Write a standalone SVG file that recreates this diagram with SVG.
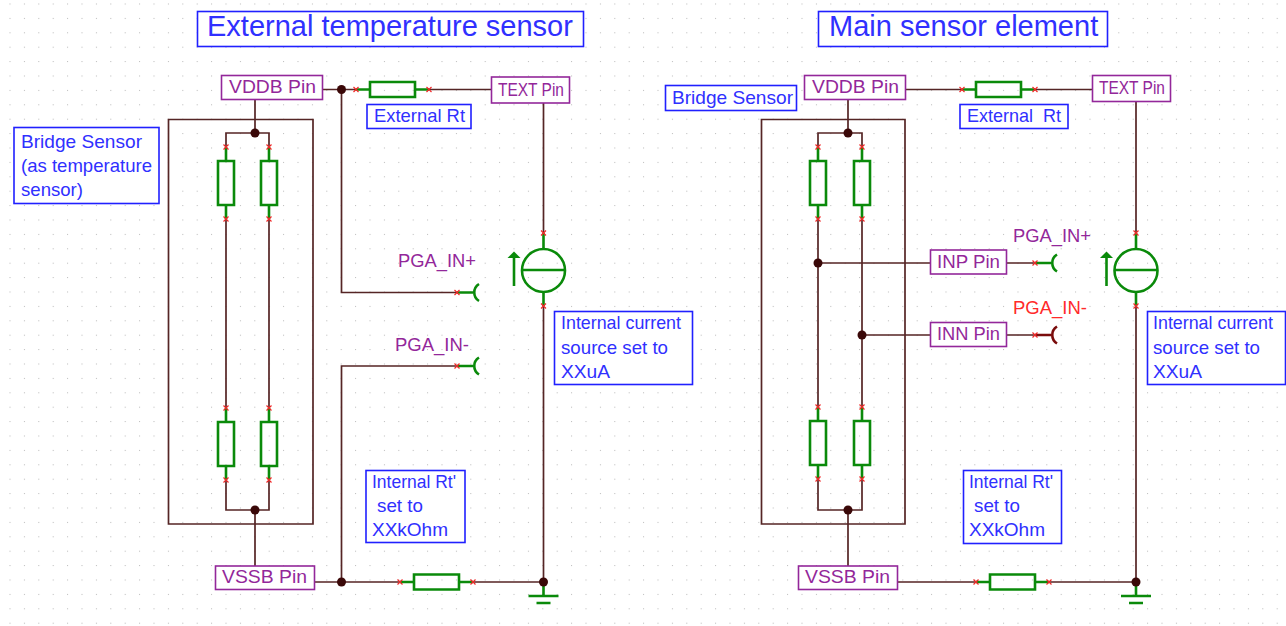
<svg xmlns="http://www.w3.org/2000/svg" width="1286" height="626" viewBox="0 0 1286 626">
<style>
text{font-family:"Liberation Sans",Arial,sans-serif;font-size:19px;lengthAdjust:spacingAndGlyphs}
.t{fill:#3030ff}.p{fill:#93279a}.r{fill:#ff2a2a}
.h{font-size:29px}.s{font-size:17px}
.tb{fill:#fff;stroke:#2020ff;stroke-width:1.6}
.pb{fill:#fff;stroke:#93279a;stroke-width:1.6}
.w{fill:none;stroke:#552525;stroke-width:1.7}
.g{fill:none;stroke:#0a8a0a;stroke-width:2.6}
.d{fill:none;stroke:#7a0c0c;stroke-width:2.6}
.x{fill:none;stroke:#f02828;stroke-width:1.2}
.j{fill:#3a0808}
</style>
<defs>
<pattern id="grid" width="14.4" height="14.4" patternUnits="userSpaceOnUse" x="9.500" y="3.500"><rect width="1" height="1" fill="#b8b8b8"/></pattern>
<path id="xm" class="x" d="M-2.500-2.500L2.500 2.500M-2.500 2.500L2.500-2.500"/>
<g id="rv"><path class="g" d="M0 0V14M0 58V72M-8 14H8V58H-8Z"/><use href="#xm"/><use href="#xm" y="72"/></g>
<g id="rh"><path class="g" d="M0 0H14M59 0H73M14-7.500H59V7.500H14Z"/><use href="#xm"/><use href="#xm" x="73"/></g>
<g id="cs"><path class="g" d="M0 0V16M0 73V59M-22 37H22"/><circle class="g" cx="0" cy="37.500" r="21.500"/><path class="g" d="M-29.500 22V53"/><path fill="#0a8a0a" d="M-29.500 18.500L-36 25H-23Z"/><use href="#xm"/><use href="#xm" y="73"/></g>
<g id="gnd"><path class="g" d="M0 0V14M-15 14H15M-7 21H7"/></g>
<g id="cap"><path class="g" d="M0 0H16M22-8.500A10 10 0 0 0 22 8.500"/><use href="#xm"/></g>
<g id="capr"><path class="d" d="M0 0H16M22-8.500A10 10 0 0 0 22 8.500"/><use href="#xm"/></g>
</defs>
<rect width="1286" height="626" fill="#fff"/>
<rect width="1286" height="626" fill="url(#grid)"/>
<g id="connectors">
<path class="w" d="M168.500 119.500H313V524H168.500Z M255 99V133M226 147V133H269V147M226 219V408M269 219V408M226 480V510H269V480M255 510V566M323 89.500H356M429 89.500H491M341.500 89.500V292.500H457M543.500 103V233M543.500 306V582M314 582H400M473 582H543.500M341.500 582V366H457"/>
<path class="w" d="M761.500 119.500H905V524H761.500Z M848 99V133M818 147V133H862V147M818 219V407M862 219V407M818 479V510H862V479M848 510V566M905 89.500H962M1035 89.500H1092M1136 101V233M1136 306V582M898 582H976M1049 582H1136M818 263H931M862 335H931M1006 263H1035M1006 335H1035"/>
</g>
<g id="title-left"><rect class="tb" x="197.500" y="11.500" width="386" height="35"/><text class="t h" x="207" y="36">External temperature sensor</text></g>
<g id="title-right"><rect class="tb" x="818.500" y="11.500" width="289" height="35"/><text class="t h" x="829" y="36">Main sensor element</text></g>
<g id="bridge-left"><use href="#rv" x="226" y="147"/><use href="#rv" x="269" y="147"/><use href="#rv" x="226" y="408"/><use href="#rv" x="269" y="408"/><circle class="j" cx="255" cy="133" r="4.500"/><circle class="j" cx="255" cy="510" r="4.500"/></g>
<g id="bridge-right"><use href="#rv" x="818" y="147"/><use href="#rv" x="862" y="147"/><use href="#rv" x="818" y="407"/><use href="#rv" x="862" y="407"/><circle class="j" cx="848" cy="133" r="4.500"/><circle class="j" cx="848" cy="510" r="4.500"/><circle class="j" cx="818" cy="263" r="4.500"/><circle class="j" cx="862" cy="335" r="4.500"/></g>
<g id="vddb-left"><rect class="pb" x="221.500" y="75.500" width="101" height="24"/><text class="p" x="229" y="93" textLength="87" lengthAdjust="spacingAndGlyphs">VDDB Pin</text></g>
<g id="text-left"><rect class="pb" x="491.500" y="77" width="78" height="26"/><text class="p" x="498" y="96" textLength="66" lengthAdjust="spacingAndGlyphs">TEXT Pin</text></g>
<g id="vssb-left"><rect class="pb" x="215.500" y="566" width="99" height="23.500"/><text class="p" x="222" y="583" textLength="85" lengthAdjust="spacingAndGlyphs">VSSB Pin</text></g>
<g id="vddb-right"><rect class="pb" x="804.500" y="75.500" width="101" height="24"/><text class="p" x="812" y="93" textLength="87" lengthAdjust="spacingAndGlyphs">VDDB Pin</text></g>
<g id="text-right"><rect class="pb" x="1092.500" y="75.500" width="78" height="26"/><text class="p" x="1099" y="94" textLength="66" lengthAdjust="spacingAndGlyphs">TEXT Pin</text></g>
<g id="vssb-right"><rect class="pb" x="798.500" y="566" width="99" height="23.500"/><text class="p" x="805" y="583" textLength="85" lengthAdjust="spacingAndGlyphs">VSSB Pin</text></g>
<g id="inp"><rect class="pb" x="930.500" y="250" width="76" height="24"/><text class="p" x="937" y="268" textLength="63" lengthAdjust="spacingAndGlyphs">INP Pin</text></g>
<g id="inn"><rect class="pb" x="930.500" y="322.500" width="76" height="24"/><text class="p" x="937" y="340" textLength="63" lengthAdjust="spacingAndGlyphs">INN Pin</text></g>
<g id="rext-left"><use href="#rh" x="356" y="89.500"/><circle class="j" cx="341.500" cy="89.500" r="4.500"/></g>
<g id="rext-right"><use href="#rh" x="962" y="89.500"/></g>
<g id="rint-left"><use href="#rh" x="400" y="582"/><circle class="j" cx="341.500" cy="582" r="4.500"/><use href="#gnd" x="543.500" y="582"/><circle class="j" cx="543.500" cy="582" r="4.500"/></g>
<g id="rint-right"><use href="#rh" x="976" y="582"/><use href="#gnd" x="1136" y="582"/><circle class="j" cx="1136" cy="582" r="4.500"/></g>
<g id="source-left"><use href="#cs" x="543.500" y="233"/></g>
<g id="source-right"><use href="#cs" x="1136" y="233"/></g>
<g id="pga-left"><use href="#cap" x="457" y="292.500"/><use href="#cap" x="457" y="366"/><text class="p" x="398" y="267" textLength="78" lengthAdjust="spacingAndGlyphs">PGA_IN+</text><text class="p" x="395" y="351" textLength="74" lengthAdjust="spacingAndGlyphs">PGA_IN-</text></g>
<g id="pga-right"><use href="#cap" x="1035" y="263"/><use href="#capr" x="1035" y="335"/><text class="p" x="1013" y="242" textLength="78" lengthAdjust="spacingAndGlyphs">PGA_IN+</text><text class="r" x="1013" y="314" textLength="74" lengthAdjust="spacingAndGlyphs">PGA_IN-</text></g>
<g id="label-ext-left"><rect class="tb" x="367" y="104.500" width="104" height="24"/><text class="t" x="374" y="122" textLength="91" lengthAdjust="spacingAndGlyphs">External Rt</text></g>
<g id="label-ext-right"><rect class="tb" x="960" y="104.500" width="108" height="24"/><text class="t" x="967" y="122" textLength="94" lengthAdjust="spacingAndGlyphs" xml:space="preserve">External  Rt</text></g>
<g id="label-bridge-left"><rect class="tb" x="14" y="127.500" width="145" height="76"/><text class="t" x="21" y="148" textLength="121" lengthAdjust="spacingAndGlyphs">Bridge Sensor</text><text class="t" x="21" y="172" textLength="131" lengthAdjust="spacingAndGlyphs">(as temperature</text><text class="t" x="21" y="196" textLength="62" lengthAdjust="spacingAndGlyphs">sensor)</text></g>
<g id="label-bridge-right"><rect class="tb" x="665.500" y="85.500" width="131" height="25"/><text class="t" x="672" y="104" textLength="121" lengthAdjust="spacingAndGlyphs">Bridge Sensor</text></g>
<g id="label-cur-left"><rect class="tb" x="554.500" y="311.500" width="138" height="73"/><text class="t" x="561" y="329" textLength="120" lengthAdjust="spacingAndGlyphs">Internal current</text><text class="t" x="561" y="354" textLength="107" lengthAdjust="spacingAndGlyphs">source set to</text><text class="t" x="561" y="378" textLength="49" lengthAdjust="spacingAndGlyphs">XXuA</text></g>
<g id="label-cur-right"><rect class="tb" x="1147.500" y="311.500" width="138" height="73"/><text class="t" x="1153" y="329" textLength="120" lengthAdjust="spacingAndGlyphs">Internal current</text><text class="t" x="1153" y="354" textLength="107" lengthAdjust="spacingAndGlyphs">source set to</text><text class="t" x="1153" y="378" textLength="49" lengthAdjust="spacingAndGlyphs">XXuA</text></g>
<g id="label-int-left"><rect class="tb" x="366" y="470.500" width="99" height="72"/><text class="t" x="372" y="488" textLength="84" lengthAdjust="spacingAndGlyphs">Internal Rt'</text><text class="t" x="377" y="512" textLength="46" lengthAdjust="spacingAndGlyphs">set to</text><text class="t" x="372" y="536" textLength="76" lengthAdjust="spacingAndGlyphs">XXkOhm</text></g>
<g id="label-int-right"><rect class="tb" x="963.500" y="470.500" width="98" height="73"/><text class="t" x="969" y="488" textLength="84" lengthAdjust="spacingAndGlyphs">Internal Rt'</text><text class="t" x="974" y="512" textLength="46" lengthAdjust="spacingAndGlyphs">set to</text><text class="t" x="969" y="536" textLength="76" lengthAdjust="spacingAndGlyphs">XXkOhm</text></g>
</svg>
